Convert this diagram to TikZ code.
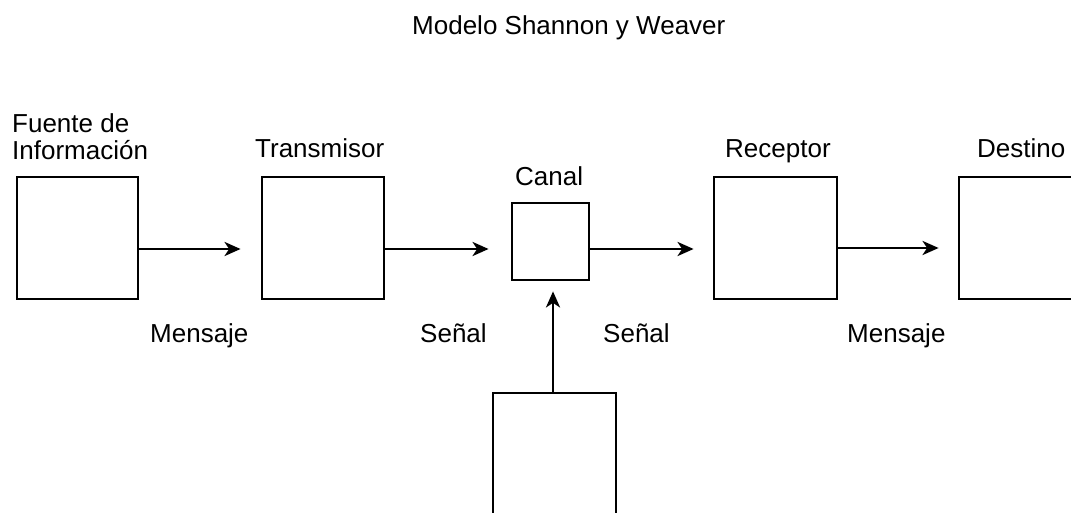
\documentclass[tikz,border=0pt]{standalone}
\usepackage{fontspec}
\setmainfont{Liberation Sans}
\usetikzlibrary{arrows.meta}
\begin{document}
\begin{tikzpicture}[x=1pt,y=-1pt,
  box/.style={draw=black,line width=2.8pt,fill=white,inner sep=0pt,rectangle},
  lbl/.style={anchor=base west,inner sep=0pt,font=\fontsize{26}{27}\selectfont},
  arr/.style={line width=2.8pt,-{Stealth[length=16pt,width=14pt,inset=4.5pt]}}]
\useasboundingbox (0,0) rectangle (1071,513);
\fill[white] (0,0) rectangle (1071,513);
\clip (0,0) rectangle (1071,513);
% boxes
\node[box,minimum width=121pt,minimum height=122pt] (fuente) at (77.5,238) {};
\node[box,minimum width=122pt,minimum height=122pt] (trans) at (323,238) {};
\node[box,minimum width=77pt,minimum height=77pt] (canal) at (550.5,241.5) {};
\node[box,minimum width=123pt,minimum height=122pt] (recep) at (775.5,238) {};
\node[box,minimum width=123pt,minimum height=122pt] (dest) at (1020.5,238) {};
\node[box,minimum width=123pt,minimum height=124pt] (ruido) at (554.5,455) {};
% connectors
\draw[arr,shorten >=20pt] ([yshift=-11pt]fuente.east) -- ([yshift=-11pt]trans.west);
\draw[arr,shorten >=22pt] ([yshift=-11pt]trans.east) -- ([yshift=-7.5pt]canal.west);
\draw[arr,shorten >=19pt] ([yshift=-7.5pt]canal.east) -- ([yshift=-11pt]recep.west);
\draw[arr,shorten >=19pt] ([yshift=-10pt]recep.east) -- ([yshift=-10pt]dest.west);
\draw[arr,shorten >=10pt] ([xshift=-1.5pt]ruido.north) -- ([xshift=-1.5pt]ruido.north |- canal.south);
% texts
\node[lbl] (titulo) at (412,35) {Modelo Shannon y Weaver};
\node[lbl] (tfuente1) at (12,133) {Fuente de};
\node[lbl] (tfuente2) at (12,160) {Información};
\node[lbl] (ttrans) at (255,158) {Transmisor};
\node[lbl] (tcanal) at (515,186) {Canal};
\node[lbl] (trecep) at (725,158) {Receptor};
\node[lbl] (tdest) at (977,158) {Destino};
\node[lbl] (tmen1) at (150,342) {Mensaje};
\node[lbl] (tsen1) at (420,342) {Señal};
\node[lbl] (tsen2) at (603,342) {Señal};
\node[lbl] (tmen2) at (847,342) {Mensaje};
\end{tikzpicture}
\end{document}
